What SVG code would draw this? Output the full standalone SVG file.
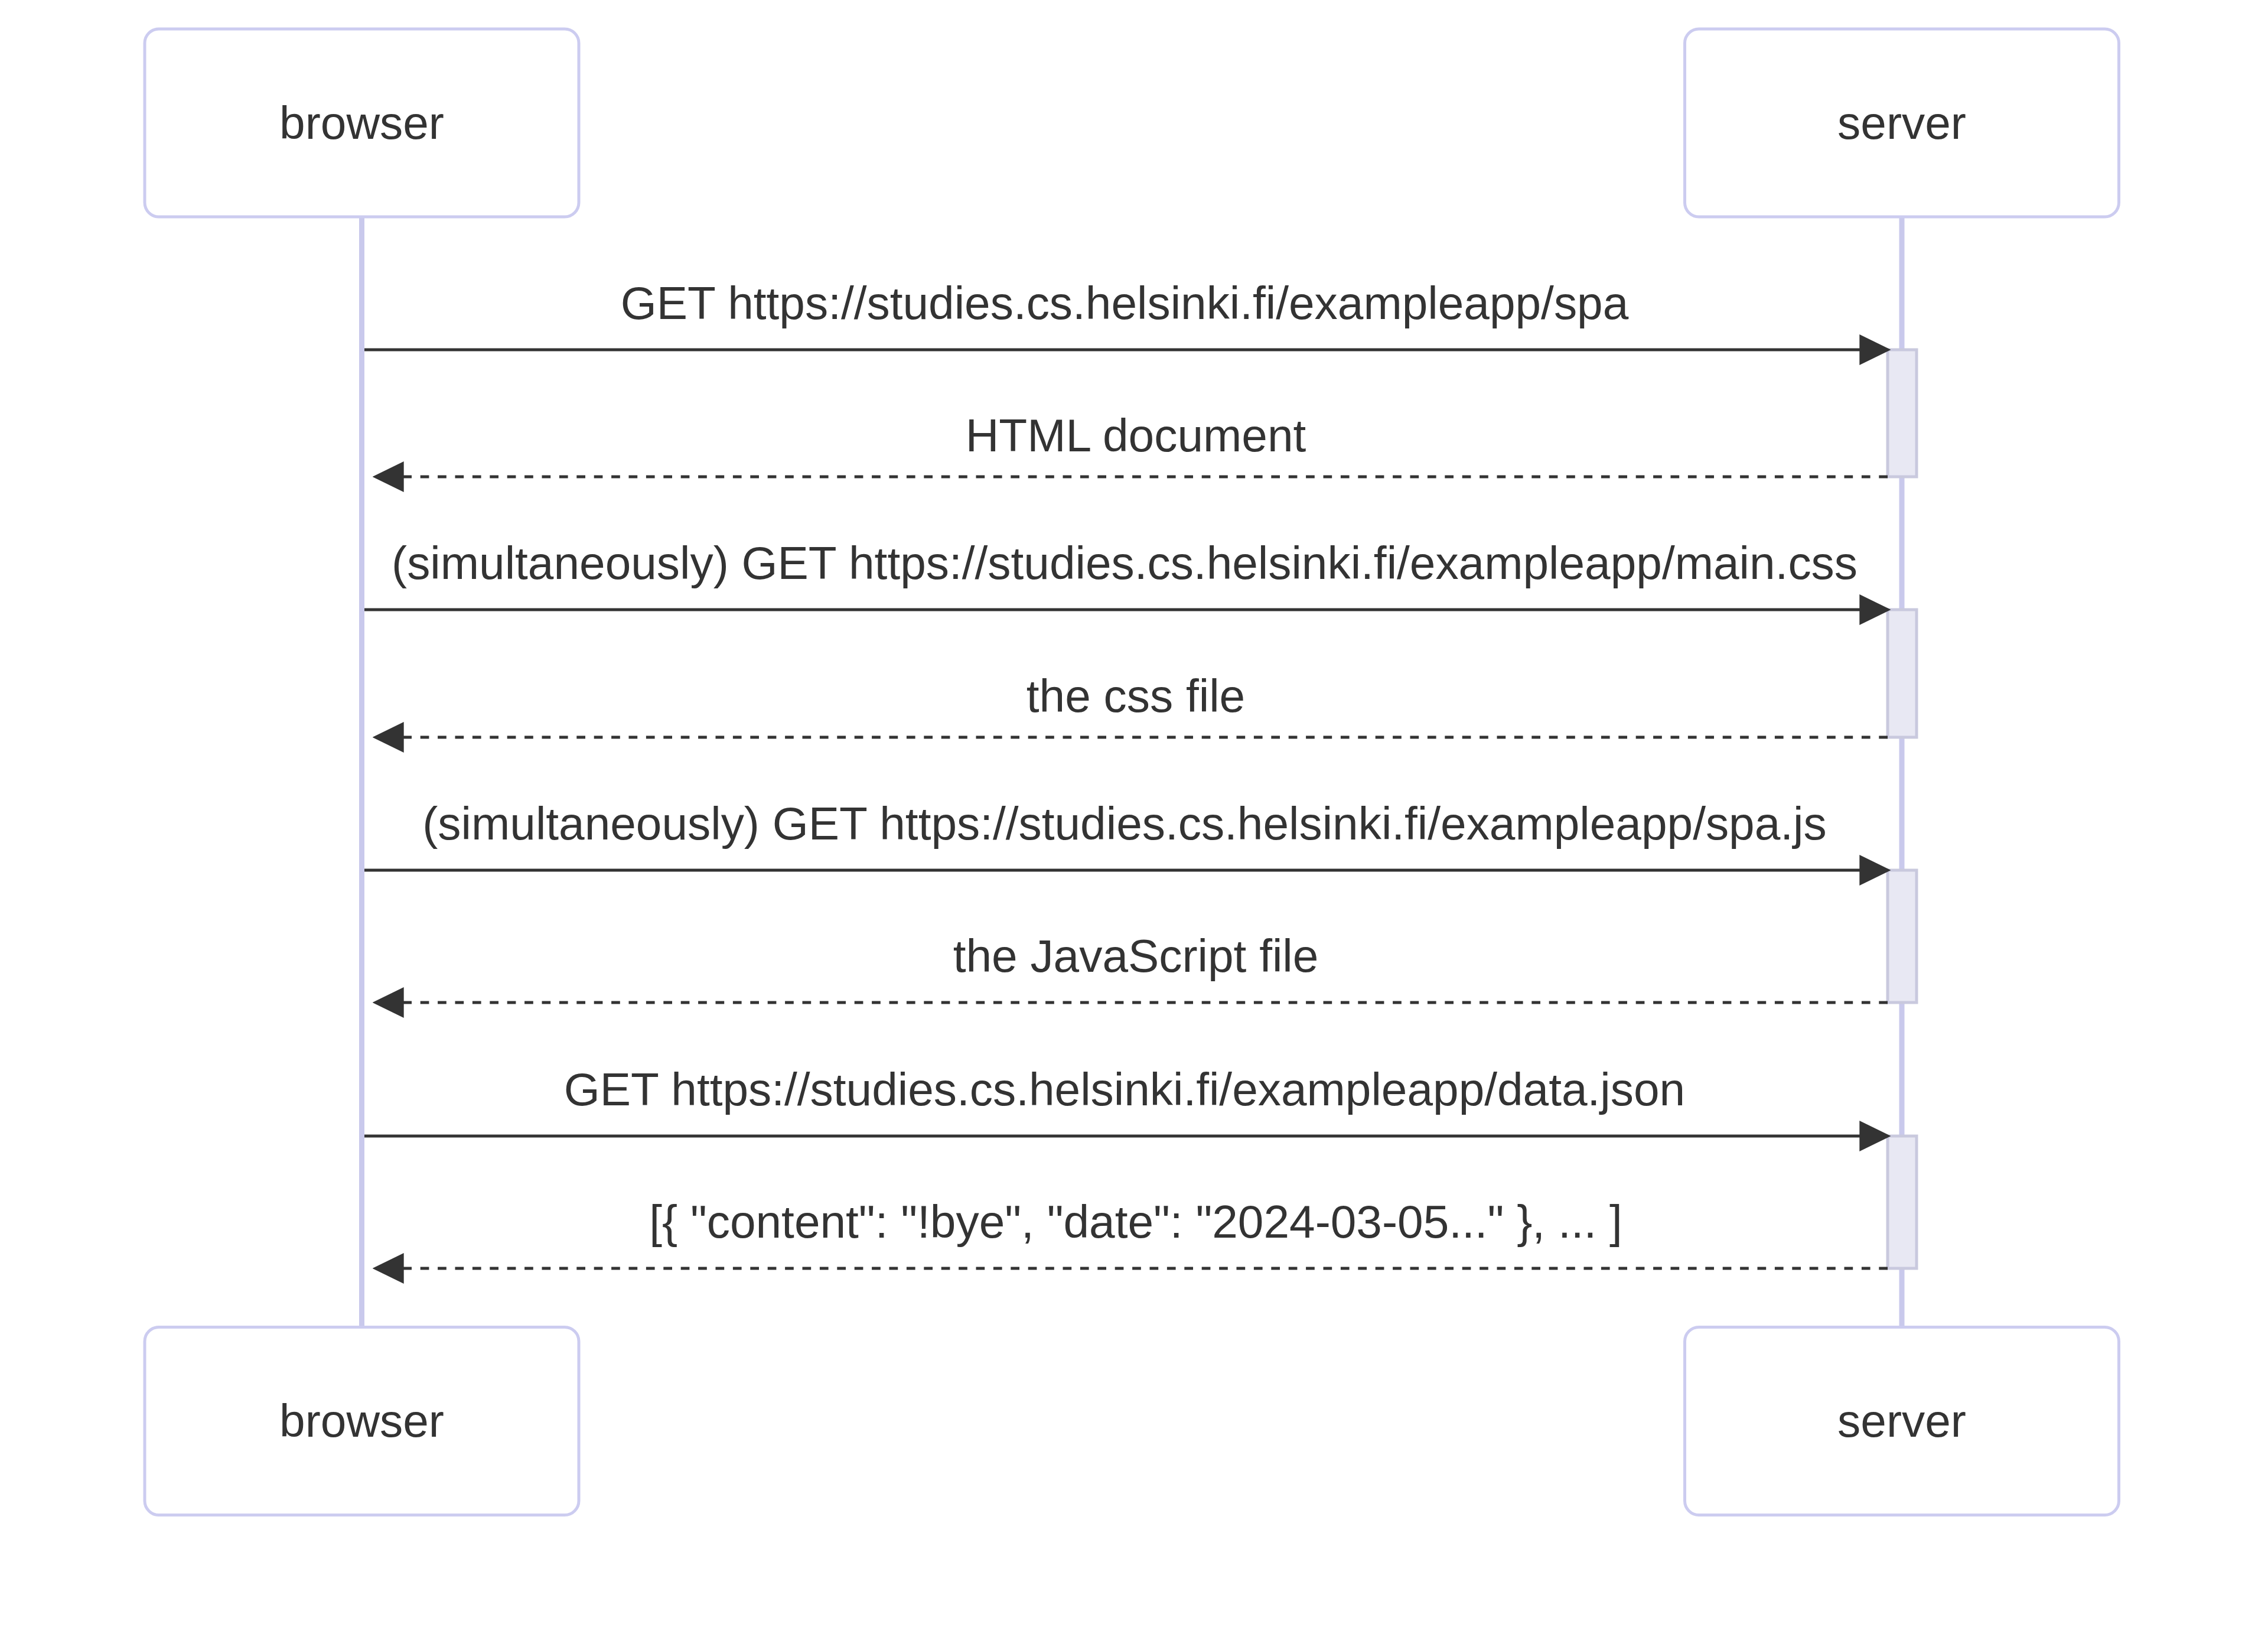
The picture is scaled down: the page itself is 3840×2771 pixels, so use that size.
<svg xmlns="http://www.w3.org/2000/svg" width="3840" height="2771" viewBox="0 0 3840 2771">
  <style>
    .actor { fill: #ffffff; stroke: #ccccf0; stroke-width: 5; }
    .actor-text { font-family: "Liberation Sans", Arial, sans-serif; font-size: 78.4px; fill: #333333; text-anchor: middle; }
    .lifeline { stroke: #c9c9ec; stroke-width: 9; fill: none; }
    .activation { fill: #e8e8f3; stroke: #c9c9de; stroke-width: 5; }
    .msg-text { font-family: "Liberation Sans", Arial, sans-serif; font-size: 78.4px; fill: #333333; text-anchor: middle; }
    .msg-solid { stroke: #333333; stroke-width: 4.9; fill: none; marker-end: url(#arrowhead); }
    .msg-dashed { stroke: #333333; stroke-width: 4.9; fill: none; stroke-dasharray: 14.7 14.7; marker-end: url(#arrowhead); }
  </style>
  <defs>
    <marker id="arrowhead" viewBox="0 0 10 10" refX="9" refY="5" markerUnits="userSpaceOnUse" markerWidth="53" markerHeight="52" orient="auto" preserveAspectRatio="none">
      <path d="M 0 0 L 10 5 L 0 10 z" fill="#333333" stroke="none"/>
    </marker>
  </defs>
  <rect x="0" y="0" width="3840" height="2771" fill="#ffffff"/>

  <g id="lifelines">
    <line class="lifeline" x1="612.5" y1="367" x2="612.5" y2="2247"/>
    <line class="lifeline" x1="3220" y1="367" x2="3220" y2="2247"/>
  </g>

  <g id="browser-top">
    <rect class="actor" x="245" y="49" width="735" height="318" rx="24" ry="24"/>
    <text class="actor-text" x="612.5" y="235">browser</text>
  </g>
  <g id="server-top">
    <rect class="actor" x="2852.5" y="49" width="735" height="318" rx="24" ry="24"/>
    <text class="actor-text" x="3220" y="235">server</text>
  </g>
  <g id="browser-bottom">
    <rect class="actor" x="245" y="2246.5" width="735" height="318" rx="24" ry="24"/>
    <text class="actor-text" x="612.5" y="2432">browser</text>
  </g>
  <g id="server-bottom">
    <rect class="actor" x="2852.5" y="2246.5" width="735" height="318" rx="24" ry="24"/>
    <text class="actor-text" x="3220" y="2432">server</text>
  </g>

  <g id="activations">
    <rect class="activation" x="3196" y="592" width="49" height="215"/>
    <rect class="activation" x="3196" y="1032" width="49" height="216"/>
    <rect class="activation" x="3196" y="1473" width="49" height="224"/>
    <rect class="activation" x="3196" y="1923" width="49" height="224"/>
  </g>

  <g id="connectors">
    <text class="msg-text" x="1904" y="540">GET https://studies.cs.helsinki.fi/exampleapp/spa</text>
    <path class="msg-solid" d="M 617 592 H 3196"/>
    <text class="msg-text" x="1923" y="764">HTML document</text>
    <path class="msg-dashed" d="M 3196 807 H 636"/>
    <text class="msg-text" x="1904" y="980">(simultaneously) GET https://studies.cs.helsinki.fi/exampleapp/main.css</text>
    <path class="msg-solid" d="M 617 1032 H 3196"/>
    <text class="msg-text" x="1923" y="1205">the css file</text>
    <path class="msg-dashed" d="M 3196 1248 H 636"/>
    <text class="msg-text" x="1904" y="1421">(simultaneously) GET https://studies.cs.helsinki.fi/exampleapp/spa.js</text>
    <path class="msg-solid" d="M 617 1473 H 3196"/>
    <text class="msg-text" x="1923" y="1645">the JavaScript file</text>
    <path class="msg-dashed" d="M 3196 1697 H 636"/>
    <text class="msg-text" x="1904" y="1871">GET https://studies.cs.helsinki.fi/exampleapp/data.json</text>
    <path class="msg-solid" d="M 617 1923 H 3196"/>
    <text class="msg-text" x="1923" y="2095">[{ "content": "!bye", "date": "2024-03-05..." }, ... ]</text>
    <path class="msg-dashed" d="M 3196 2147 H 636"/>
  </g>
</svg>
